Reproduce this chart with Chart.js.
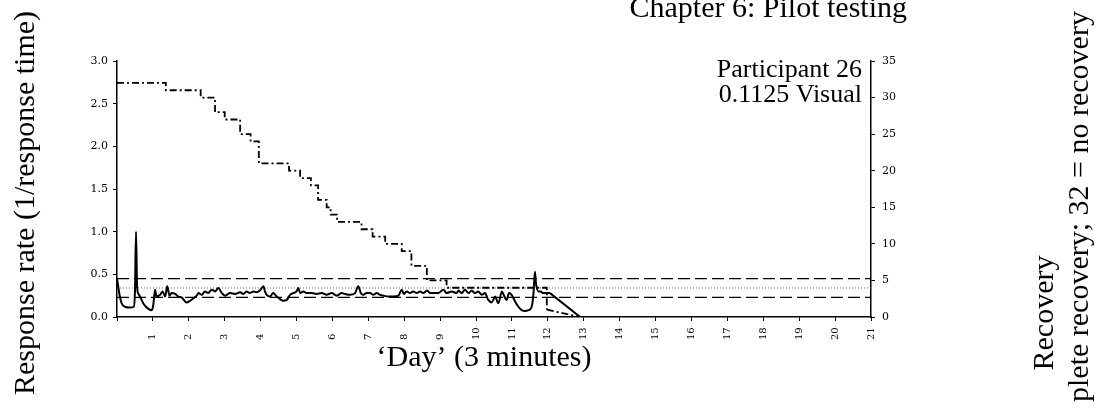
<!DOCTYPE html>
<html lang="en">
<head>
<meta charset="UTF-8">
<title>Participant 26 - response rate and recovery</title>
<style>
  html, body { margin: 0; padding: 0; background: #fff; }
  canvas { display: block; }
</style>
</head>
<body>
<canvas id="chartJSContainer" width="1095" height="409"></canvas>
<script src="https://cdn.jsdelivr.net/npm/chart.js@4.4.0/dist/chart.umd.min.js"></script>
<script>
// 'day' tick labels (one day = 3 minutes)
const dayLabels = ['1', '2', '3', '4', '5', '6', '7', '8', '9', '10', '11',
  '12', '13', '14', '15', '16', '17', '18', '19', '20', '21'];

// response rate (1/response time) per trial
const responseDay = [0, 0.04, 0.08, 0.13, 0.22, 0.36, 0.47, 0.5, 0.53, 0.56, 0.6, 0.64, 0.73, 0.83,
  0.97, 1.01, 1.06, 1.1, 1.2, 1.27, 1.34, 1.4, 1.46, 1.52, 1.62, 1.71, 1.8, 1.94, 2.03, 2.13,
  2.22, 2.27, 2.36, 2.45, 2.54, 2.64, 2.73, 2.82, 2.92, 3.01, 3.15, 3.29, 3.43, 3.52, 3.61,
  3.7, 3.8, 3.89, 3.98, 4.08, 4.12, 4.17, 4.26, 4.35, 4.45, 4.54, 4.63, 4.73, 4.82, 4.91, 5.0,
  5.05, 5.1, 5.19, 5.28, 5.42, 5.56, 5.7, 5.84, 5.98, 6.12, 6.26, 6.35, 6.49, 6.63, 6.72, 6.79,
  6.86, 6.95, 7.05, 7.14, 7.23, 7.33, 7.42, 7.56, 7.7, 7.84, 7.93, 7.99, 8.07, 8.16, 8.25, 8.35,
  8.44, 8.53, 8.64, 8.72, 8.81, 8.95, 9.09, 9.18, 9.32, 9.46, 9.51, 9.6, 9.69, 9.79, 9.88, 9.97,
  10.06, 10.16, 10.25, 10.34, 10.44, 10.53, 10.62, 10.72, 10.79, 10.85, 10.92, 10.99, 11.09,
  11.18, 11.27, 11.37, 11.46, 11.55, 11.6, 11.64, 11.67, 11.74, 11.81, 11.85, 11.97, 12.06];
const responseRate = [0.45, 0.34, 0.24, 0.16, 0.12, 0.11, 0.12, 0.3, 1.0, 0.35, 0.27, 0.24, 0.16, 0.11,
  0.08, 0.14, 0.32, 0.24, 0.26, 0.3, 0.24, 0.36, 0.25, 0.28, 0.27, 0.24, 0.23, 0.17, 0.19, 0.22,
  0.25, 0.28, 0.26, 0.3, 0.28, 0.32, 0.3, 0.34, 0.28, 0.25, 0.28, 0.27, 0.29, 0.27, 0.3,
  0.28, 0.3, 0.29, 0.31, 0.36, 0.3, 0.26, 0.24, 0.28, 0.24, 0.21, 0.19, 0.2, 0.26, 0.28, 0.3,
  0.34, 0.28, 0.3, 0.28, 0.28, 0.27, 0.28, 0.26, 0.28, 0.25, 0.28, 0.27, 0.26, 0.28, 0.36, 0.28,
  0.26, 0.28, 0.28, 0.26, 0.28, 0.26, 0.25, 0.24, 0.24, 0.25, 0.32, 0.27, 0.3, 0.28, 0.3, 0.28,
  0.3, 0.28, 0.31, 0.28, 0.28, 0.28, 0.32, 0.28, 0.3, 0.28, 0.31, 0.28, 0.32, 0.28, 0.31, 0.28,
  0.3, 0.26, 0.28, 0.2, 0.17, 0.24, 0.16, 0.3, 0.24, 0.2, 0.28, 0.26, 0.18,
  0.12, 0.08, 0.07, 0.08, 0.12, 0.28, 0.53, 0.39, 0.3, 0.3, 0.28, 0.28, 0.28];
// after the last trial the rate falls straight to zero
const responseTailDay = [12.06, 12.9, 21];
const responseTailRate = [0.28, 0, 0];

// recovery score (0 = complete recovery, 32 = no recovery), value holds from each day on
const recoveryDay = [0, 1.36, 2.33, 2.73, 3.0, 3.43, 3.72, 3.95, 4.79, 5.1, 5.4, 5.6, 5.84, 5.95,
  6.13, 6.81, 7.12, 7.47, 7.93, 8.2, 8.63, 9.18, 11.97];
const recoveryScore = [32, 31, 30, 28, 27, 25, 24, 21, 20, 19, 18, 16, 15, 14,
  13, 12, 11, 10, 9, 7, 5, 4, 1];
const recoveryTailDay = [11.97, 12.9, 21];
const recoveryTailScore = [1, 0, 0];

// reference levels for the response rate
const upperRate = 0.45;
const meanRate = 0.34;
const lowerRate = 0.23;

const zip = (xs, ys) => xs.map((x, i) => ({ x, y: ys[i] }));
const level = v => [{ x: 0, y: v }, { x: 21, y: v }];

const serif = '"Liberation Serif", "Times New Roman", serif';

function rotatedText(ctx, text, x, y, align) {
  ctx.save();
  ctx.translate(x, y);
  ctx.rotate(-Math.PI / 2);
  ctx.textAlign = align;
  ctx.fillText(text, 0, 0);
  ctx.restore();
}

// page text, axis titles and the rotated day labels
const pageText = {
  id: 'pageText',
  afterDraw(chart) {
    const { ctx, scales: { x } } = chart;
    ctx.save();
    ctx.fillStyle = '#000';
    ctx.textBaseline = 'alphabetic';

    ctx.font = '30px ' + serif;
    ctx.textAlign = 'right';
    ctx.fillText('Chapter 6: Pilot testing', 907, 17);

    ctx.font = '26px ' + serif;
    ctx.fillText('Participant 26', 862, 77);
    ctx.fillText('0.1125 Visual', 862, 102);

    ctx.font = '30px ' + serif;
    ctx.textAlign = 'center';
    ctx.fillText('\u2018Day\u2019 (3 minutes)', 484, 366);

    rotatedText(ctx, 'Response rate (1/response time)', 34, 203, 'center');
    rotatedText(ctx, 'Recovery', 1053, 313, 'center');
    rotatedText(ctx, 'plete recovery; 32 = no recovery', 1088, 402, 'left');

    ctx.font = '10px "DejaVu Serif"';
    ctx.textBaseline = 'middle';
    dayLabels.forEach(l => {
      rotatedText(ctx, l, x.getPixelForValue(Number(l)), 340, 'left');
    });
    ctx.restore();
  }
};

const tickFont = { family: 'DejaVu Serif', size: 11 };
const dashDot = [7, 3, 2, 3];

const data = {
  datasets: [
    {
      data: zip(responseDay, responseRate),
      yAxisID: 'y',
      borderColor: '#000',
      borderWidth: 2,
      cubicInterpolationMode: 'monotone',
      pointRadius: 0
    },
    {
      data: zip(responseTailDay, responseTailRate),
      yAxisID: 'y',
      borderColor: '#000',
      borderWidth: 2,
      pointRadius: 0
    },
    {
      data: zip(recoveryDay, recoveryScore),
      yAxisID: 'y2',
      stepped: 'before',
      borderColor: '#000',
      borderWidth: 1.8,
      borderDash: dashDot,
      pointRadius: 0
    },
    {
      data: zip(recoveryTailDay, recoveryTailScore),
      yAxisID: 'y2',
      borderColor: '#000',
      borderWidth: 1.8,
      borderDash: dashDot,
      pointRadius: 0
    },
    {
      data: level(upperRate),
      yAxisID: 'y',
      borderColor: '#000',
      borderWidth: 1.4,
      borderDash: [12, 5],
      pointRadius: 0
    },
    {
      data: level(meanRate),
      yAxisID: 'y',
      borderColor: '#666',
      borderWidth: 1,
      borderDash: [1, 2],
      pointRadius: 0
    },
    {
      data: level(lowerRate),
      yAxisID: 'y',
      borderColor: '#000',
      borderWidth: 1.4,
      borderDash: [12, 5],
      pointRadius: 0
    }
  ]
};

const options = {
  responsive: false,
  animation: false,
  devicePixelRatio: 1,
  layout: { padding: { top: 61, left: 0, right: 0, bottom: 0 } },
  plugins: { legend: { display: false }, tooltip: { enabled: false } },
  scales: {
    x: {
      type: 'linear',
      min: 0,
      max: 21,
      ticks: { stepSize: 1, display: false },
      grid: { drawOnChartArea: false, tickLength: 4, color: '#000' },
      border: { color: '#000', width: 1.5 },
      afterFit: s => { s.height = 92; }
    },
    y: {
      position: 'left',
      min: 0,
      max: 3,
      ticks: {
        stepSize: 0.5,
        padding: 5,
        color: '#000',
        font: tickFont,
        callback: v => v.toFixed(1)
      },
      grid: { drawOnChartArea: false, tickLength: 4, color: '#000' },
      border: { color: '#000', width: 1.5 },
      afterFit: s => { s.width = 117; }
    },
    y2: {
      position: 'right',
      min: 0,
      max: 35,
      ticks: { stepSize: 5, padding: 7, color: '#000', font: tickFont },
      grid: { drawOnChartArea: false, tickLength: 4, color: '#000' },
      border: { color: '#000', width: 1.5 },
      afterFit: s => { s.width = 224; }
    }
  }
};

const ctx = document.getElementById('chartJSContainer').getContext('2d');
new Chart(ctx, { type: 'line', data, options, plugins: [pageText] });
</script>
</body>
</html>
